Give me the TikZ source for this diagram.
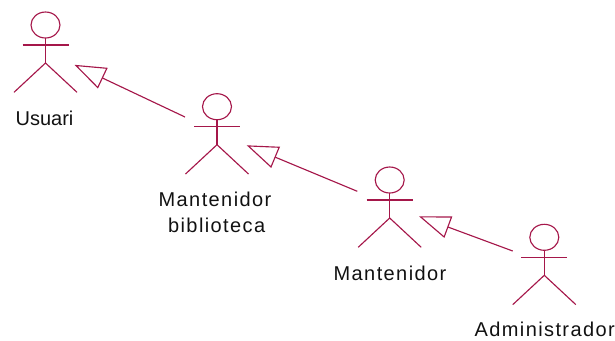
\documentclass[tikz,border=0pt]{standalone}
\usepackage{fontspec}
\setmainfont{Liberation Sans}
\newfontfamily\labfont[LetterSpace=7]{Liberation Sans}
\usetikzlibrary{arrows.meta}
\definecolor{actorred}{HTML}{A5174A}
\definecolor{labgray}{HTML}{111111}
\tikzset{%
    act/.style={line width = 0.85pt, draw=actorred},
    gen/.style={line width = 0.85pt, draw=actorred, -{Triangle[open,length=23.5pt,width=17pt]}},
    lab/.style={anchor=base, inner sep=0pt, text=labgray, font=\fontsize{15}{19.2}\selectfont\labfont},
    actorfig/.pic={
        \draw [act] (0,0) ellipse (14.5 and 13);
        \draw [act] (-23,20) -- (23,20);
        \draw [act] (0,13) -- (0,38);
        \draw [act] (-31.5,67.3) -- (0,38) -- (31.5,67.3);
    },
}
\begin{document}
\begin{tikzpicture}[x=0.75pt,y=-0.75pt]
    \useasboundingbox (0,0) rectangle (615,340);
    \pic at (45.5,25) {actorfig};
    \pic at (217,106.7) {actorfig};
    \pic at (389.7,180) {actorfig};
    \pic at (544.3,237.3) {actorfig};
    \node [lab,font=\fontsize{15}{19.2}\selectfont] (usuari) at (44.5,125) {Usuari};
    \node [lab] (bib) at (215,206.7) {Mantenidor};
    \node [lab] (bib2) at (216.7,232.3) {biblioteca};
    \node [lab] (mant) at (390,280) {Mantenidor};
    \node [lab] (admin) at (544.7,336.7) {Administrador};
    \coordinate (usuaritip) at (74.5,64.8);
    \coordinate (bibfrom) at (185,117);
    \coordinate (bibtip) at (246.7,145.3);
    \coordinate (mantfrom) at (357.3,191.3);
    \coordinate (manttip) at (419,216.3);
    \coordinate (adminfrom) at (512.7,251);
    \draw [gen] (bibfrom) -- (usuaritip);
    \draw [gen] (mantfrom) -- (bibtip);
    \draw [gen] (adminfrom) -- (manttip);
\end{tikzpicture}
\end{document}
